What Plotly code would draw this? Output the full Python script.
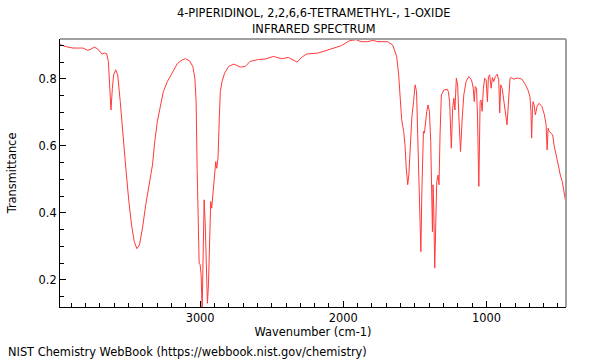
import plotly.graph_objects as go

wavenumber = [3979, 3970, 3935, 3889, 3819, 3785, 3762, 3738, 3715, 3685, 3669, 3653, 3641, 3632, 3623, 3613,
              3604, 3590, 3576, 3558, 3540, 3519, 3498, 3479, 3460, 3442, 3424, 3403, 3380, 3356, 3333, 3317,
              3299, 3276, 3257, 3229, 3194, 3160, 3125, 3102, 3074, 3051, 3037, 3028, 3021, 3014, 3007, 3000,
              2993, 2986, 2979, 2972, 2965, 2958, 2949, 2942, 2935, 2926, 2919, 2910, 2901, 2891, 2884, 2875,
              2866, 2859, 2847, 2829, 2801, 2766, 2743, 2720, 2685, 2651, 2592, 2547, 2488, 2431, 2384, 2349,
              2322, 2292, 2257, 2176, 2141, 2083, 2014, 1956, 1910, 1875, 1829, 1794, 1759, 1736, 1690, 1655,
              1627, 1613, 1604, 1592, 1578, 1569, 1560, 1550, 1542, 1532, 1521, 1509, 1498, 1488, 1479, 1470,
              1458, 1451, 1444, 1440, 1433, 1428, 1417, 1408, 1398, 1389, 1382, 1377, 1373, 1368, 1361, 1354,
              1347, 1338, 1331, 1324, 1315, 1297, 1285, 1273, 1266, 1257, 1245, 1236, 1227, 1220, 1210, 1201,
              1192, 1181, 1169, 1158, 1142, 1123, 1104, 1092, 1085, 1078, 1069, 1062, 1053, 1044, 1037, 1030,
              1021, 1012, 1002, 993, 986, 977, 967, 958, 949, 937, 925, 914, 907, 900, 890, 877,
              863, 856, 844, 835, 826, 810, 792, 776, 752, 729, 710, 696, 689, 684, 678, 674,
              667, 658, 646, 632, 613, 595, 583, 576, 569, 562, 549, 537, 528, 514, 498, 484,
              470, 460, 451, 445]
transmittance = [0.903, 0.901, 0.896, 0.892, 0.892, 0.885, 0.889, 0.895, 0.889, 0.874, 0.877, 0.875, 0.852, 0.792, 0.707, 0.772,
                 0.812, 0.827, 0.812, 0.732, 0.633, 0.533, 0.434, 0.364, 0.314, 0.293, 0.304, 0.354, 0.424, 0.484, 0.543, 0.613,
                 0.673, 0.722, 0.762, 0.792, 0.821, 0.845, 0.857, 0.860, 0.854, 0.837, 0.802, 0.732, 0.533, 0.334, 0.250, 0.245,
                 0.215, 0.110, 0.295, 0.439, 0.375, 0.235, 0.130, 0.185, 0.314, 0.434, 0.414, 0.464, 0.504, 0.553, 0.533, 0.563,
                 0.683, 0.762, 0.792, 0.817, 0.837, 0.844, 0.840, 0.835, 0.837, 0.852, 0.858, 0.859, 0.867, 0.860, 0.864, 0.857,
                 0.850, 0.864, 0.874, 0.877, 0.882, 0.889, 0.899, 0.914, 0.917, 0.911, 0.911, 0.915, 0.911, 0.911, 0.911, 0.901,
                 0.867, 0.812, 0.743, 0.678, 0.643, 0.603, 0.534, 0.484, 0.513, 0.613, 0.684, 0.732, 0.782, 0.762, 0.633, 0.434,
                 0.284, 0.464, 0.633, 0.643, 0.638, 0.663, 0.702, 0.722, 0.702, 0.613, 0.484, 0.344, 0.484, 0.414, 0.235, 0.384,
                 0.493, 0.513, 0.484, 0.633, 0.752, 0.767, 0.767, 0.769, 0.762, 0.732, 0.593, 0.712, 0.742, 0.707, 0.802, 0.782,
                 0.683, 0.583, 0.683, 0.752, 0.792, 0.807, 0.797, 0.772, 0.732, 0.777, 0.772, 0.683, 0.479, 0.732, 0.737, 0.703,
                 0.772, 0.802, 0.797, 0.732, 0.807, 0.812, 0.772, 0.804, 0.792, 0.807, 0.814, 0.797, 0.698, 0.782, 0.772, 0.732,
                 0.683, 0.663, 0.743, 0.802, 0.804, 0.799, 0.802, 0.802, 0.799, 0.784, 0.767, 0.747, 0.703, 0.623, 0.712, 0.732,
                 0.722, 0.693, 0.718, 0.727, 0.718, 0.693, 0.663, 0.588, 0.653, 0.643, 0.638, 0.633, 0.603, 0.578, 0.543, 0.513,
                 0.493, 0.468, 0.444, 0.430]

x_ticks = [3000, 2000, 1000]
y_ticks = [0.2, 0.4, 0.6, 0.8]
title_lines = ["4-PIPERIDINOL, 2,2,6,6-TETRAMETHYL-, 1-OXIDE", "INFRARED SPECTRUM"]

font = "DejaVu Sans"
fs = 11.4

fig = go.Figure()
fig.add_trace(go.Scatter(x=wavenumber, y=transmittance, mode="lines",
                         line=dict(color="#ff3a3a", width=1), hoverinfo="skip", showlegend=False))

fig.update_layout(
    width=600, height=360,
    margin=dict(l=57, r=34, t=39, b=53),
    paper_bgcolor="white", plot_bgcolor="white",
    font=dict(family=font, size=fs, color="black"),
    xaxis=dict(range=[3979, 444], tickvals=x_ticks, ticktext=[str(v) for v in x_ticks],
               showgrid=False, zeroline=False, showline=True, linecolor="black", linewidth=1,
               ticks="inside", ticklen=6, tickcolor="black",
               minor=dict(dtick=100, tick0=0, ticks="inside", ticklen=4, tickcolor="black"),
               title=dict(text="Wavenumber (cm-1)", font=dict(size=fs), standoff=3),
               tickfont=dict(size=fs)),
    yaxis=dict(range=[0.119, 0.919], tickvals=y_ticks, ticktext=[f"{v:.1f}" for v in y_ticks],
               showgrid=False, zeroline=False, showline=True, linecolor="black", linewidth=1,
               ticks="inside", ticklen=6, tickcolor="black",
               minor=dict(dtick=0.05, tick0=0, ticks="inside", ticklen=4, tickcolor="black"),
               title=dict(text="Transmittance", font=dict(size=fs), standoff=19),
               tickfont=dict(size=fs)),
    shapes=[
        dict(type="line", xref="paper", yref="paper", x0=0, x1=1, y0=1, y1=1,
             line=dict(color="#a0a0a0", width=2)),
        dict(type="line", xref="paper", yref="paper", x0=1, x1=1, y0=0, y1=1,
             line=dict(color="#a0a0a0", width=2)),
    ],
    annotations=[
        dict(text=title_lines[0], xref="paper", yref="paper", x=0.5, y=1, yshift=26,
             showarrow=False, font=dict(size=fs), xanchor="center", yanchor="middle"),
        dict(text=title_lines[1], xref="paper", yref="paper", x=0.5, y=1, yshift=10,
             showarrow=False, font=dict(size=fs), xanchor="center", yanchor="middle"),
        dict(text="NIST Chemistry WebBook (https://webbook.nist.gov/chemistry)", xref="paper", yref="paper",
             x=0, y=0, xshift=-54, yshift=-45, showarrow=False, font=dict(size=fs),
             xanchor="left", yanchor="middle"),
    ],
)

fig.write_html("out.html", config={"displayModeBar": False},
               post_script="document.body.style.margin='0';")
